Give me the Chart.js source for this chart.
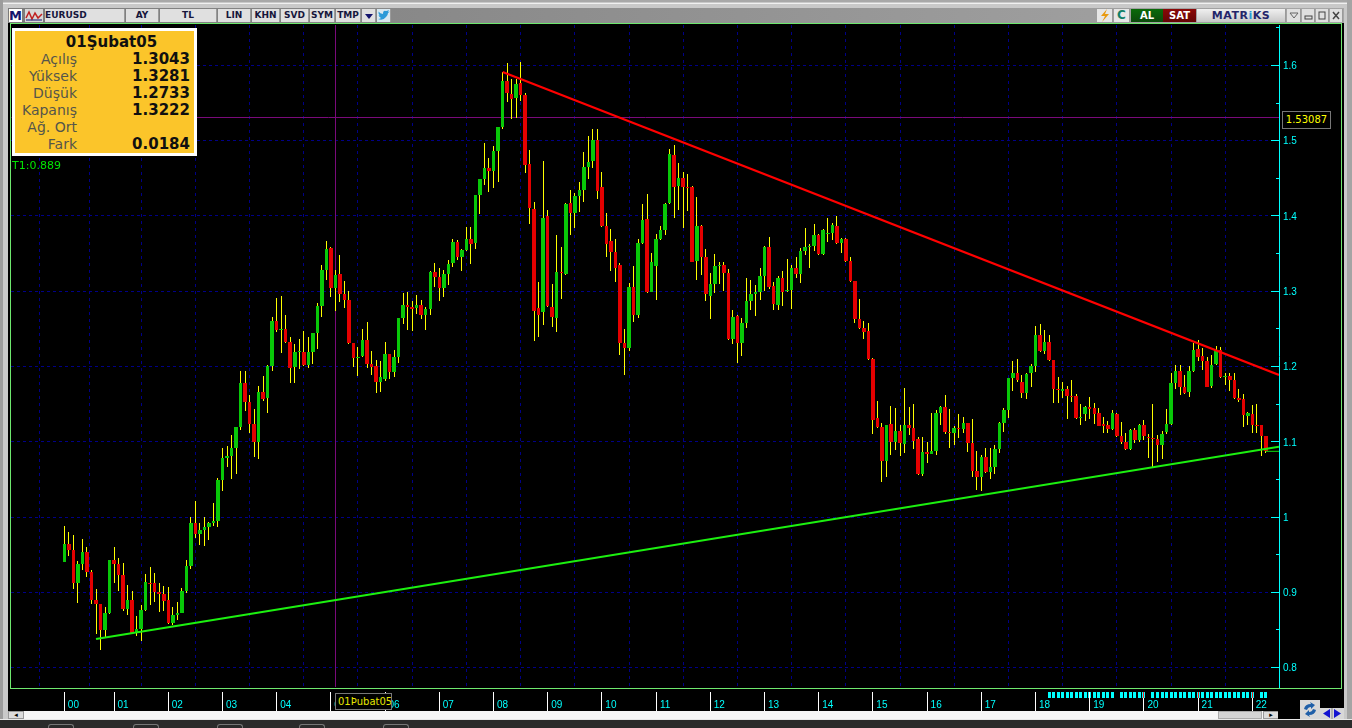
<!DOCTYPE html>
<html>
<head>
<meta charset="utf-8">
<title>EURUSD</title>
<script src="https://cdn.jsdelivr.net/npm/chart.js@4/dist/chart.umd.min.js"></script>
<style>
html,body{margin:0;padding:0;width:1352px;height:728px;overflow:hidden;background:#c9c9c9;font-family:"DejaVu Sans",sans-serif;}
.b{position:absolute;box-sizing:border-box;}
.btn{position:absolute;box-sizing:border-box;top:9px;height:13px;background:#e0e0e0;border-right:1px solid #9a9a9a;color:#16163c;font:bold 9px/13px "DejaVu Sans";text-align:center;}
canvas{position:absolute;left:0;top:0;z-index:1;}
.top{z-index:2;}
.row{position:absolute;left:0;width:100%;height:17px;line-height:17px;font-size:14px;}
.lab{position:absolute;right:117px;color:#55554a;white-space:nowrap;}
.val{position:absolute;right:4px;color:#101010;font-weight:bold;font-size:15px;}
</style>
</head>
<body>

<!-- window frame and toolbar -->
<div class="b" style="left:0;top:0;width:1352px;height:2px;background:#a8a8a8"></div>
<div class="b" style="left:0;top:3px;width:1352px;height:1px;background:#f0f0f0"></div>
<div class="b" style="left:0;top:0;width:3px;height:720px;background:#9c9c9c"></div>
<div class="b" style="left:1347px;top:0;width:5px;height:720px;background:#a4a4a4"></div>
<div class="b" style="left:8px;top:8px;width:1336px;height:15px;background:linear-gradient(90deg,#7c7c7c,#a6a6a6)"></div>
<div class="b" style="left:8px;top:23px;width:1336px;height:688px;background:#000"></div>
<div class="b" style="left:10px;top:23px;width:1332px;height:666px;border:1px solid #6ee86e"></div>

<div class="b" style="left:9px;top:9px;width:13px;height:13px;background:#fff;color:#14146e;font:bold 13px/13px 'DejaVu Sans';text-align:center">M</div>
<svg class="b" style="left:25px;top:9px" width="18" height="13"><rect width="18" height="13" fill="#d8d8d8"/><path d="M1 9 L4 3 L7 10 L10 4 L13 9 L17 5" fill="none" stroke="#c02020" stroke-width="1.5"/><path d="M1 11 H17" stroke="#14146e"/></svg>
<div class="btn" style="left:45px;width:80px;text-align:left">EURUSD</div>
<div class="btn" style="left:126px;width:33px">AY</div>
<div class="btn" style="left:160px;width:57px">TL</div>
<div class="btn" style="left:218px;width:33px">LIN</div>
<div class="btn" style="left:252px;width:28px">KHN</div>
<div class="btn" style="left:281px;width:28px">SVD</div>
<div class="btn" style="left:310px;width:25px">SYM</div>
<div class="btn" style="left:336px;width:25px">TMP</div>
<div class="btn" style="left:362px;width:14px"><svg width="10" height="13"><path d="M1 5 H9 L5 10 Z" fill="#14146e"/></svg></div>
<div class="btn" style="left:377px;width:14px;background:#d8e8f0"><svg width="13" height="13"><path d="M1 10 Q6 12 9 8 Q11 6 11 4 L13 2.5 L11 3 L12 1 Q10 2 9 2 Q6 1 6 5 Q3 4.5 1.5 2.5 Q1 5 3 6.5 L1.5 6 Q2 8 4 9 Q3 10 1 10Z" fill="#2a9ad8"/></svg></div>

<div class="btn" style="left:1097px;width:16px;background:#e6e6e6"><svg width="14" height="13"><path d="M9 0 L3 7 H7 L4 13 L11 5 H7 Z" fill="#e89a10"/></svg></div>
<div class="btn" style="left:1114px;width:16px;background:#e6e6e6;color:#108068;font-size:12px">C</div>
<div class="btn" style="left:1131px;width:32px;background:linear-gradient(#0a6a0a,#0c4a0c);color:#fff;font-size:10px;border:0">AL</div>
<div class="btn" style="left:1163px;width:33px;background:linear-gradient(#8a0808,#640404);color:#fff;font-size:10px;border:0">SAT</div>
<div class="btn" style="left:1197px;width:89px;background:linear-gradient(#f0f0f0,#c8c8c8);color:#24246a;font-size:11px;letter-spacing:.5px">MATR<span style="color:#2a9ad8">i</span>KS</div>
<div class="btn" style="left:1287px;width:14px"><svg width="12" height="13"><path d="M2 4 H10 L6 9 Z" fill="none" stroke="#666"/></svg></div>
<div class="btn" style="left:1302px;width:13px"><svg width="11" height="13"><rect x="2" y="7" width="7" height="3" fill="none" stroke="#444"/></svg></div>
<div class="btn" style="left:1316px;width:13px"><svg width="11" height="13"><rect x="2" y="3" width="6" height="7" fill="none" stroke="#444"/></svg></div>
<div class="btn" style="left:1330px;width:13px"><svg width="11" height="13"><path d="M2 3 L8 10 M8 3 L2 10" stroke="#444" stroke-width="1.5"/></svg></div>

<!-- bottom strip -->
<div class="b" style="left:8px;top:711px;width:1270px;height:8px;background:#f6f6f6"></div>
<div class="b" style="left:8px;top:711px;width:16px;height:8px;background:#dcdcdc;border:1px solid #999;color:#000;font:7px/6px 'DejaVu Sans';text-align:center">◂</div>
<div class="b" style="left:1218px;top:711px;width:44px;height:8px;background:#d4d4d4;border:1px solid #aaa"></div>
<div class="b" style="left:1263px;top:711px;width:16px;height:8px;background:#dcdcdc;border:1px solid #999;color:#000;font:7px/6px 'DejaVu Sans';text-align:center">▸</div>
<div class="b" style="left:1278px;top:711px;width:66px;height:9px;background:#000"></div>
<div class="b" style="left:0;top:720px;width:1352px;height:8px;background:#2b2b2b"></div>
<div class="b" style="left:0;top:719px;width:1352px;height:1px;background:#e8e8e8"></div>
<div class="b" style="left:48px;top:724px;width:26px;height:4px;border:1px solid #777;border-bottom:0;border-radius:3px 3px 0 0"></div>
<div class="b" style="left:133px;top:724px;width:26px;height:4px;border:1px solid #777;border-bottom:0;border-radius:3px 3px 0 0"></div>
<div class="b" style="left:217px;top:724px;width:26px;height:4px;border:1px solid #777;border-bottom:0;border-radius:3px 3px 0 0"></div>
<div class="b" style="left:299px;top:724px;width:26px;height:4px;border:1px solid #777;border-bottom:0;border-radius:3px 3px 0 0"></div>
<div class="b" style="left:383px;top:724px;width:26px;height:4px;border:1px solid #777;border-bottom:0;border-radius:3px 3px 0 0"></div>
<svg class="b top" style="left:1300px;top:700px" width="20" height="19"><rect width="20" height="19" fill="#d8d8d8"/><path d="M4 9 Q5 4 11 4 L10 2 L15 5 L11 9 L11 7 Q8 7 7 10 Z M16 10 Q15 15 9 15 L10 17 L5 14 L9 10 L9 12 Q12 12 13 9 Z" fill="#1f5fa8"/></svg>
<svg class="b top" style="left:1320px;top:708px" width="24" height="11"><rect width="24" height="11" fill="#d8d8d8"/><path d="M10 1 V10 L3 5.5 Z M14 1 V10 L21 5.5 Z" fill="#1414d0"/><path d="M12 0 V11" stroke="#888"/></svg>

<canvas id="c" width="1352" height="728"></canvas>

<!-- info panel -->
<div class="b top" style="left:12px;top:28px;width:185px;height:128px;background:#fbc52a;border:3px solid #fff">
  <div class="row" style="top:3px;text-align:center;font-weight:bold;font-size:15px;color:#101010;left:7px">01Şubat05</div>
  <div class="row" style="top:20px"><span class="lab">Açılış</span><span class="val">1.3043</span></div>
  <div class="row" style="top:37px"><span class="lab">Yüksek</span><span class="val">1.3281</span></div>
  <div class="row" style="top:54px"><span class="lab">Düşük</span><span class="val">1.2733</span></div>
  <div class="row" style="top:71px"><span class="lab">Kapanış</span><span class="val">1.3222</span></div>
  <div class="row" style="top:88px"><span class="lab">Ağ. Ort</span></div>
  <div class="row" style="top:105px"><span class="lab">Fark</span><span class="val">0.0184</span></div>
</div>
<div class="b top" style="left:12px;top:159px;color:#00e600;font-size:11px;line-height:14px">T1:0.889</div>
<div class="b top" style="left:1282px;top:111px;width:49px;height:18px;border:1px solid #777;background:#000;color:#ffff00;font-size:10px;line-height:16px;text-align:center">1.53087</div>
<div class="b top" style="left:335px;top:693px;width:57px;height:17px;border:1px solid #777;background:#000;color:#e6e600;font-size:10px;line-height:15px;overflow:hidden;white-space:nowrap;padding-left:2px">01Þubat05</div>

<script>
/* ---------- данные: месячные свечи, 00..22 ---------- */
const opens = [
.9406,.9636,.9561,.9123,.9375,.9535,.9269,.8897,.8843,.8498,
.8724,.9428,.9375,.9224,.8777,.8897,.8467,.8511,.8764,.9123,
.9123,.8999,.8972,.8897,.8587,.8697,.8724,.9016,.9348,.9915,
.9774,.9827,.9862,.9920,.9942,1.0491,1.0784,1.0810,1.0917,1.1196,
1.1780,1.1528,1.1236,1.0996,1.1661,1.1581,1.2007,1.2600,1.2485,1.2494,
1.2321,1.1993,1.2193,1.2193,1.2015,1.2188,1.2441,1.2799,1.3282,1.3575,
1.3043,1.3229,1.2959,1.2879,1.2308,1.2117,1.2135,1.2348,1.2029,1.2007,
1.1794,1.1829,1.2162,1.1927,1.2126,1.2640,1.2813,1.2791,1.2773,1.2813,
1.2684,1.2764,1.3256,1.3189,1.3043,1.3229,1.3371,1.3654,1.3455,1.3548,
1.3694,1.3641,1.4279,1.4487,1.4638,1.4593,1.4864,1.5178,1.5790,1.5621,
1.5568,1.5767,1.5603,1.4687,1.4093,1.2777,1.2724,1.4000,1.2791,1.2649,
1.3256,1.3229,1.4173,1.4040,1.4266,1.4341,1.4651,1.4731,1.5010,1.4381,
1.3867,1.3668,1.3517,1.3349,1.2308,1.2246,1.3057,1.2685,1.3637,1.3956,
1.2990,1.3340,1.3690,1.3814,1.4168,1.4811,1.4399,1.4505,1.4390,1.4381,
1.3407,1.3867,1.3451,1.2937,1.3096,1.3336,1.3349,1.3238,1.2366,1.2671,
1.2308,1.2578,1.2866,1.2964,1.2990,1.3203,1.3588,1.3070,1.2817,1.3176,
1.3003,1.3017,1.3309,1.3229,1.3535,1.3588,1.3601,1.3743,1.3495,1.3765,
1.3774,1.3867,1.3641,1.3694,1.3402,1.3136,1.2631,1.2512,1.2472,1.2100,
1.1316,1.1192,1.0745,1.1236,1.0997,1.1139,1.0975,1.1223,1.1179,1.1037,
1.0572,1.0864,1.0837,1.0878,1.1383,1.1462,1.1130,1.1121,1.1183,1.1170,
1.1245,1.0984,1.0607,1.0532,1.0798,1.0598,1.0661,1.0904,1.1254,1.1422,
1.1848,1.1914,1.1799,1.1644,1.1914,1.2007,1.2419,1.2206,1.2326,1.2087,
1.1701,1.1670,1.1701,1.1604,1.1604,1.1320,1.1369,1.1457,1.1444,1.1378,
1.1236,1.1218,1.1169,1.1369,1.1077,1.0992,1.0899,1.1156,1.1028,1.1218,
1.1063,1.1045,1.1032,1.0957,1.1125,1.1236,1.1776,1.1940,1.1723,1.1661,
1.1940,1.2228,1.2140,1.2069,1.1741,1.2033,1.2219,1.1865,1.1874,1.1816,
1.1577,1.1564,1.1347,1.1369,1.1227,1.1218,1.1077];

const closes = [
.9636,.9561,.9123,.9375,.9535,.9269,.8897,.8843,.8494,.8719,
.9428,.9375,.9224,.8777,.8897,.8458,.8511,.8764,.9136,.9109,
.8999,.8972,.8888,.8587,.8697,.8719,.9016,.9348,.9915,.9774,
.9827,.9862,.9920,.9942,1.0491,1.0784,1.0810,1.0917,1.1196,1.1780,
1.1528,1.1236,1.0992,1.1661,1.1568,1.2006,1.2600,1.2481,1.2499,1.2321,
1.1976,1.2188,1.2206,1.2015,1.2188,1.2441,1.2799,1.3282,1.3557,1.3039,
1.3222,1.2959,1.2879,1.2308,1.2108,1.2131,1.2348,1.2029,1.1993,1.1790,
1.1860,1.2162,1.1922,1.2126,1.2640,1.2813,1.2791,1.2764,1.2813,1.2680,
1.2760,1.3256,1.3189,1.3039,1.3229,1.3362,1.3654,1.3451,1.3548,1.3694,
1.3623,1.4279,1.4487,1.4638,1.4593,1.4859,1.5183,1.5790,1.5630,1.5550,
1.5754,1.5603,1.4673,1.4102,1.2737,1.2684,1.3973,1.2808,1.2658,1.3256,
1.3238,1.4159,1.4040,1.4266,1.4341,1.4651,1.4718,1.5010,1.4332,1.3867,
1.3624,1.3517,1.3309,1.2308,1.2242,1.3057,1.2680,1.3637,1.3947,1.2986,
1.3384,1.3690,1.3814,1.4160,1.4824,1.4390,1.4505,1.4390,1.4381,1.3393,
1.3867,1.3451,1.2959,1.3096,1.3336,1.3349,1.3238,1.2361,1.2658,1.2308,
1.2574,1.2866,1.2964,1.2990,1.3203,1.3588,1.3052,1.2826,1.3176,1.2990,
1.3017,1.3309,1.3229,1.3535,1.3588,1.3601,1.3743,1.3495,1.3814,1.3774,
1.3881,1.3641,1.3694,1.3402,1.3136,1.2631,1.2516,1.2459,1.2100,1.1290,
1.1197,1.0745,1.1223,1.0993,1.1139,1.0988,1.1223,1.1179,1.1006,1.0572,
1.0864,1.0833,1.0878,1.1383,1.1462,1.1130,1.1112,1.1183,1.1166,1.1245,
1.0979,1.0607,1.0528,1.0798,1.0594,1.0661,1.0904,1.1250,1.1422,1.1848,
1.1914,1.1821,1.1644,1.1901,1.2007,1.2419,1.2206,1.2326,1.2087,1.1701,
1.1684,1.1701,1.1604,1.1595,1.1311,1.1329,1.1457,1.1440,1.1369,1.1214,
1.1214,1.1174,1.1378,1.1081,1.0992,1.0899,1.1156,1.1023,1.1218,1.1081,
1.1045,1.1032,1.0952,1.1099,1.1236,1.1776,1.1940,1.1723,1.1643,1.1940,
1.2219,1.2131,1.2069,1.1732,1.2020,1.2219,1.1856,1.1874,1.1816,1.1577,
1.1555,1.1351,1.1378,1.1227,1.1218,1.1077,1.0882];

const highs = [
.9880,.9800,.9760,.9415,.9707,.9601,.9295,.9043,.8843,.8804,
.9428,.9601,.9455,.9388,.9096,.9016,.8684,.8830,.9242,.9335,
.9255,.9123,.9083,.9069,.8804,.8870,.9056,.9428,1.0000,1.0212,
.9920,1.0000,.9933,1.0186,1.0518,1.0917,1.0943,1.1089,1.1196,1.1940,
1.1940,1.1621,1.1435,1.1740,1.1873,1.2020,1.2658,1.2906,1.2937,1.2685,
1.2396,1.2299,1.2365,1.2472,1.2396,1.2441,1.2844,1.3349,1.3668,1.3588,
1.3281,1.3482,1.3136,1.3003,1.2308,1.2259,1.2498,1.2591,1.2206,1.2086,
1.2073,1.2326,1.2162,1.2219,1.2640,1.2977,1.2990,1.2870,1.2950,1.2884,
1.2786,1.3269,1.3375,1.3309,1.3278,1.3415,1.3694,1.3681,1.3561,1.3854,
1.3854,1.4279,1.4487,1.4970,1.4771,1.4930,1.5183,1.5914,1.6033,1.5821,
1.5821,1.6046,1.5634,1.4877,1.4182,1.3123,1.4731,1.4080,1.3096,1.3747,
1.3588,1.4173,1.4345,1.4306,1.4452,1.4850,1.5063,1.5156,1.5156,1.4585,
1.4040,1.3827,1.3694,1.3371,1.2498,1.3110,1.3336,1.3694,1.4160,1.4293,
1.3508,1.3761,1.3867,1.4173,1.4891,1.4944,1.4704,1.4585,1.4558,1.4399,
1.4253,1.3881,1.3562,1.3243,1.3495,1.3389,1.3389,1.3296,1.2751,1.2685,
1.2645,1.3176,1.3150,1.3083,1.3309,1.3601,1.3721,1.3123,1.3203,1.3269,
1.3429,1.3349,1.3455,1.3575,1.3841,1.3628,1.3894,1.3761,1.3827,1.3974,
1.3907,1.4000,1.3708,1.3708,1.3455,1.3136,1.2897,1.2605,1.2578,1.2113,
1.1542,1.1245,1.1223,1.1476,1.1449,1.1223,1.1715,1.1462,1.1502,1.1064,
1.1064,1.0997,1.1383,1.1422,1.1476,1.1622,1.1436,1.1210,1.1369,1.1329,
1.1245,1.1303,1.0878,1.0824,1.0917,1.0917,1.0957,1.1263,1.1449,1.1848,
1.2074,1.2100,1.1888,1.1914,1.2034,1.2539,1.2565,1.2486,1.2419,1.2087,
1.1861,1.1795,1.1741,1.1821,1.1635,1.1502,1.1475,1.1595,1.1515,1.1449,
1.1329,1.1276,1.1422,1.1382,1.1263,1.1116,1.1169,1.1183,1.1236,1.1289,
1.1103,1.1502,1.1090,1.1143,1.1435,1.1909,1.2020,1.2020,1.1887,1.2007,
1.2312,1.2352,1.2246,1.2126,1.2153,1.2272,1.2259,1.1914,1.1914,1.1909,
1.1701,1.1635,1.1395,1.1488,1.1502,1.1227,1.1077];

const lows = [
.9406,.9486,.9043,.8861,.9295,.9202,.8843,.8445,.8232,.8401,
.8711,.9123,.9016,.8750,.8697,.8445,.8418,.8352,.8750,.8830,
.8870,.8737,.8750,.8578,.8564,.8631,.8719,.8990,.9309,.9721,
.9628,.9614,.9694,.9880,.9867,1.0345,1.0664,1.0505,1.0571,1.1156,
1.1408,1.1116,1.0797,1.0770,1.1541,1.1382,1.1940,1.2459,1.2184,1.2308,
1.1776,1.1785,1.1971,1.2007,1.1984,1.2033,1.2232,1.2658,1.3149,1.2924,
1.2733,1.2857,1.2777,1.2299,1.1993,1.1874,1.2126,1.1984,1.1887,1.1648,
1.1661,1.1807,1.1834,1.1860,1.2046,1.2565,1.2485,1.2472,1.2698,1.2631,
1.2485,1.2684,1.3056,1.2870,1.2924,1.3083,1.3322,1.3415,1.3269,1.3535,
1.3362,1.3561,1.4026,1.4412,1.4319,1.4372,1.4452,1.5156,1.5515,1.5289,
1.5302,1.5528,1.4571,1.3894,1.2339,1.2392,1.2551,1.2791,1.2525,1.2458,
1.2897,1.3216,1.3747,1.3840,1.4053,1.4186,1.4492,1.4638,1.4226,1.3858,
1.3455,1.3269,1.3123,1.2153,1.1887,1.2206,1.2592,1.2645,1.3628,1.2981,
1.2986,1.2884,1.3681,1.3748,1.4160,1.3974,1.4080,1.3841,1.4067,1.3384,
1.3150,1.3216,1.2871,1.2631,1.2977,1.3096,1.3003,1.2352,1.2299,1.2047,
1.2140,1.2512,1.2751,1.2671,1.2884,1.3003,1.3030,1.2751,1.2751,1.2804,
1.2990,1.2764,1.3172,1.3105,1.3482,1.3309,1.3535,1.3482,1.3486,1.3655,
1.3681,1.3628,1.3508,1.3389,1.3127,1.2583,1.2498,1.2366,1.2087,1.1103,
1.1179,1.0466,1.0532,1.0824,1.0891,1.0811,1.0851,1.1090,1.0904,1.0559,
1.0545,1.0718,1.0837,1.0824,1.1223,1.1103,1.0917,1.0957,1.1050,1.1112,
1.0864,1.0532,1.0359,1.0346,1.0581,1.0505,1.0572,1.0851,1.1130,1.1316,
1.1675,1.1799,1.1582,1.1569,1.1728,1.1927,1.2198,1.2167,1.2074,1.1515,
1.1515,1.1582,1.1303,1.1528,1.1302,1.1223,1.1276,1.1302,1.1236,1.1209,
1.1116,1.1116,1.1156,1.1068,1.0970,1.0890,1.0890,1.0983,1.0997,1.1023,
1.0784,1.0647,1.0731,1.0771,1.1103,1.1223,1.1701,1.1621,1.1635,1.1599,
1.1927,1.2073,1.1954,1.1723,1.1714,1.2020,1.1847,1.1754,1.1674,1.1568,
1.1528,1.1201,1.1223,1.1121,1.1112,1.0811,1.0846];

/* ---------- оси ---------- */
const yearTicks  = [0,11,23,35,47,59,71,83,95,107,119,131,143,155,167,179,191,203,215,227,239,251,263];
const yearLabels = ['00','01','02','03','04','05','06','07','08','09','10','11','12','13','14','15','16','17','18','19','20','21','22'];
const yMajor = [0.8,0.9,1,1.1,1.2,1.3,1.4,1.5,1.6];
const yMinor = [0.85,0.95,1.05,1.15,1.25,1.35,1.45,1.55,1.65];
const xMin = -11.82, xMax = 268.9, yMin = 0.7741, yMax = 1.6538;

/* ---------- трендовые линии и перекрестие ---------- */
const redTrendX   = [97.03, 268.9],  redTrendY   = [1.5914, 1.1887];
const greenTrendX = [7.0, 268.9],    greenTrendY = [0.8379, 1.0934];
const lastMarkX   = [265.9, 268.9],  lastMarkY   = [1.0873, 1.0873];
const crossX = 60, crossY = 1.53087;

/* нижняя полоса с голубыми блоками */
const stripMarks = [218,219,220,221,222,223,224,225,226,227,228,229,230,231,232,234,235,236,237,238,239,
  241,242,243,244,245,246,247,248,249,250,251,252,253,254,255,256,257,258,259,260,261,262,263,265,266];
const redTopTicks = [239,251,263];

const GREEN = '#08c808', RED = '#e40000', BLUE = '#000088', CYAN = '#00ffff';
const pts = (xs,ys) => xs.map((x,i)=>({x, y:ys[i]}));
const idx = opens.map((_,i)=>i);

/* ---------- привязка к целым пикселям, чтобы свечи были чёткие ---------- */
const snap = {
  id:'snap',
  afterDatasetsUpdate(chart){
    chart.data.datasets.forEach((ds,n)=>{
      const meta = chart.getDatasetMeta(n);
      if(ds.type==='line' && !ds.snapLine) return;
      meta.data.forEach(el=>{
        if(ds.body){                     // тело 3..4 px, как в оригинале
          const l=Math.round(el.x-el.width/2), r=Math.round(el.x+el.width/2);
          el.x=(l+r)/2; el.width=r-l;
        } else el.x = Math.floor(el.x)+.5;
        if(ds.type==='line') return;
        el.y = Math.round(el.y);
        el.base = Math.round(el.base);
        if(el.y===el.base) el.base = el.y+1;
      });
    });
  }
};

/* ---------- деления оси и полоса снизу ---------- */
const axisMarks = {
  id:'axisMarks',
  afterDraw(chart){
    const {ctx,scales:{x,y}} = chart;
    ctx.save();
    ctx.fillStyle = CYAN;
    yMajor.forEach(v=>ctx.fillRect(1271,Math.floor(y.getPixelForValue(v)),8,1));
    yMinor.forEach(v=>ctx.fillRect(1276,Math.floor(y.getPixelForValue(v)),3,1));
    stripMarks.forEach(i=>ctx.fillRect(Math.floor(x.getPixelForValue(i))-1,692,3,6));
    ctx.fillStyle = '#fff';
    yearTicks.forEach(i=>ctx.fillRect(Math.floor(x.getPixelForValue(i)),692,1,19));
    ctx.fillStyle = '#ff2020';
    redTopTicks.forEach(i=>ctx.fillRect(Math.floor(x.getPixelForValue(i)),692,1,6));
    ctx.restore();
  }
};

new Chart(document.getElementById('c'),{
  type:'bar',
  data:{
    datasets:[
      {type:'line',snapLine:true,data:pts([xMin,xMax],[crossY,crossY]),borderColor:'#7a0a7a',borderWidth:1,pointRadius:0,order:6},
      {type:'line',snapLine:true,data:pts([crossX,crossX],[yMin,yMax]),borderColor:'#7a0a7a',borderWidth:1,pointRadius:0,order:6},
      {data:idx.map(i=>({x:i,y:[lows[i],highs[i]]})),backgroundColor:'#ffff00',barThickness:1,inflateAmount:0,grouped:false,order:5},
      {body:true,data:idx.map(i=>({x:i,y:[opens[i],closes[i]]})),
       backgroundColor:idx.map(i=>closes[i]>=opens[i]?GREEN:RED),barThickness:3.5,inflateAmount:0,grouped:false,order:4},
      {type:'line',data:pts(lastMarkX,lastMarkY),borderColor:'#10e010',borderWidth:1,pointRadius:0,order:3},
      {type:'line',data:pts(redTrendX,redTrendY),borderColor:'#ff0000',borderWidth:2.2,pointRadius:0,order:2},
      {type:'line',data:pts(greenTrendX,greenTrendY),borderColor:'#1cf010',borderWidth:2.2,pointRadius:0,order:1}
    ]
  },
  options:{
    responsive:false, animation:false, events:[],
    layout:{padding:{left:11,top:25,right:0,bottom:0}},
    plugins:{legend:{display:false},tooltip:{enabled:false},title:{display:false}},
    scales:{
      x:{
        type:'linear', min:xMin, max:xMax, offset:false, stacked:false,
        afterBuildTicks:s=>{s.ticks=yearTicks.map(v=>({value:v}));},
        afterFit:s=>{s.height=41;},
        grid:{color:BLUE,lineWidth:1,drawTicks:false,z:0},
        border:{display:false,dash:[3,4]},
        ticks:{color:CYAN,font:{size:10},autoSkip:false,maxRotation:0,padding:12,labelOffset:9,
               callback:(v,i)=>yearLabels[i]}
      },
      y:{
        position:'right', min:yMin, max:yMax,
        afterBuildTicks:s=>{s.ticks=yMajor.map(v=>({value:v}));},
        afterFit:s=>{s.width=73;},
        grid:{color:BLUE,lineWidth:1,drawTicks:false},
        border:{display:true,color:CYAN,width:1,dash:[3,3]},
        ticks:{color:CYAN,font:{size:10},padding:4,labelOffset:1,autoSkip:false,callback:v=>String(+(+v).toFixed(1))}
      }
    }
  },
  plugins:[snap,axisMarks]
});
</script>
</body>
</html>
